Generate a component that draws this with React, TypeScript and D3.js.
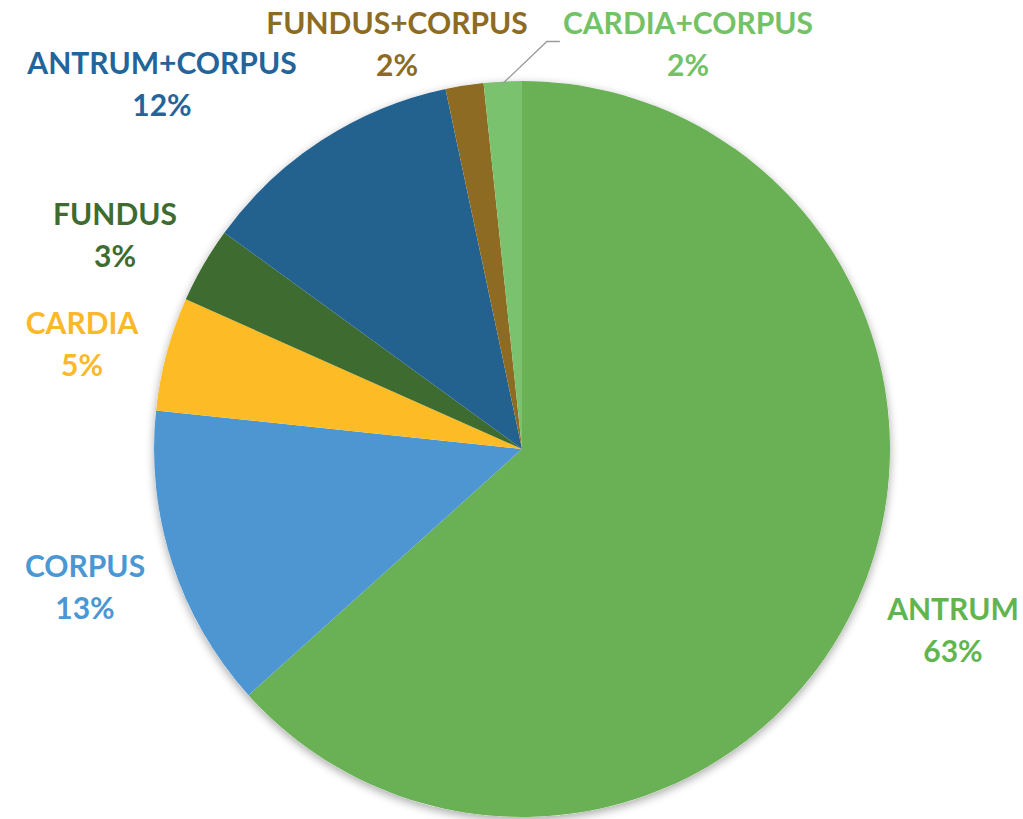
import React from "react";
import * as d3 from "d3";

const categories = ["ANTRUM", "CORPUS", "CARDIA", "FUNDUS", "ANTRUM+CORPUS", "FUNDUS+CORPUS", "CARDIA+CORPUS"];
const counts = [38, 8, 3, 2, 7, 1, 1];
const percentLabels = ["63%", "13%", "5%", "3%", "12%", "2%", "2%"];
const sliceColors = ["#6ab155", "#4e96d2", "#fdbb26", "#3e6b30", "#23618f", "#8d6b22", "#7bc26f"];
const labelColors = ["#62b54e", "#4a97d4", "#fbb828", "#3e6b30", "#23649a", "#8d6b22", "#73c266"];
// label anchor (center of first line) in page pixels
const labelPos: [number, number][] = [
  [953, 608],
  [85, 565],
  [82, 322],
  [115, 213],
  [162, 62],
  [397, 22],
  [688, 22],
];

export default function App() {
  const ref = React.useRef<SVGSVGElement | null>(null);
  const width = 1023;
  const height = 819;

  React.useEffect(() => {
    if (!ref.current) return;
    const svg = d3.select(ref.current);
    svg.selectAll("*").remove();
    const cx = 522;
    const cy = 449;
    const r = 368;

    const defs = svg.append("defs");
    const f = defs.append("filter").attr("id", "shadow").attr("x", "-10%").attr("y", "-10%").attr("width", "120%").attr("height", "120%");
    f.append("feGaussianBlur").attr("in", "SourceAlpha").attr("stdDeviation", 5);
    f.append("feOffset").attr("dx", 0).attr("dy", 3).attr("result", "b");
    f.append("feComponentTransfer").append("feFuncA").attr("type", "linear").attr("slope", 0.35);
    const m = f.append("feMerge");
    m.append("feMergeNode");
    m.append("feMergeNode").attr("in", "SourceGraphic");

    const pie = d3.pie<number>().sort(null).value(d => d);
    const arcs = pie(counts);
    const arc = d3.arc<d3.PieArcDatum<number>>().innerRadius(0).outerRadius(r);

    const g = svg.append("g").attr("transform", `translate(${cx},${cy})`);
    g.append("circle").attr("r", r).attr("fill", "#fff").attr("filter", "url(#shadow)");
    g.selectAll("path.slice")
      .data(arcs)
      .enter()
      .append("path")
      .attr("class", "slice")
      .attr("d", arc)
      .attr("fill", (_, i) => sliceColors[i]);

    // leader line for CARDIA+CORPUS
    const last = arcs[6];
    const mid = (last.startAngle + last.endAngle) / 2;
    const px = cx + Math.sin(mid) * (r - 2);
    const py = cy - Math.cos(mid) * (r - 2);
    svg.append("polyline")
      .attr("points", `${px},${py} ${px + 44},${py - 42} ${px + 57},${py - 42}`)
      .attr("fill", "none")
      .attr("stroke", "#9a9a9a")
      .attr("stroke-width", 1.3);

    categories.forEach((c, i) => {
      const [lx, ly] = labelPos[i];
      const t = svg.append("text")
        .attr("x", lx)
        .attr("y", ly)
        .attr("text-anchor", "middle")
        .attr("dominant-baseline", "central")
        .attr("font-family", "Lato, sans-serif")
        .attr("font-weight", 700)
        .attr("font-size", 30)
        .attr("fill", labelColors[i]);
      t.append("tspan").attr("x", lx).text(c);
      t.append("tspan").attr("x", lx).attr("dy", 42).text(percentLabels[i]);
    });
  }, []);

  return (
    <svg
      ref={ref}
      width={width}
      height={height}
      style={{ position: "absolute", left: 0, top: 0, background: "#fff" }}
    ></svg>
  );
}
